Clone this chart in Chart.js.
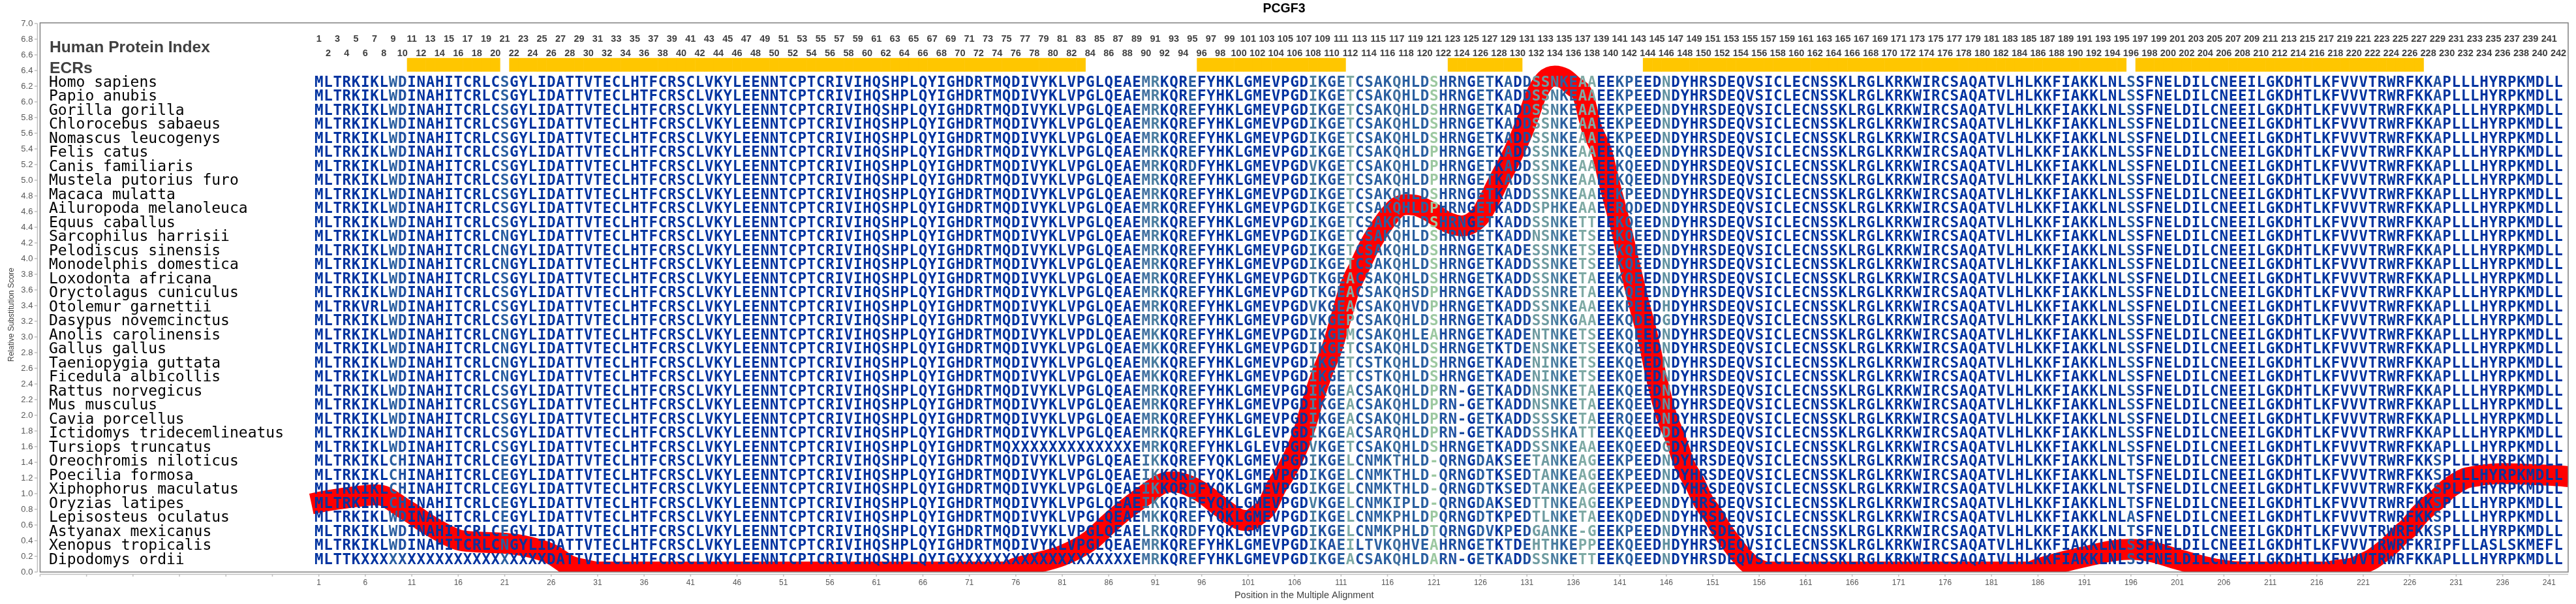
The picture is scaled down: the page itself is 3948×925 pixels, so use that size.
<!DOCTYPE html>
<html>
<head>
<meta charset="utf-8">
<title>PCGF3</title>
<script src="https://cdn.jsdelivr.net/npm/chart.js@4"></script>
<style>
    html, body { margin: 0; padding: 0; background: #fff; }
    canvas { display: block; }
</style>
</head>
<body>
<canvas id="chart" width="3948" height="925"></canvas>
<script>
// species, top to bottom
const species = [
    'Homo sapiens', 'Papio anubis', 'Gorilla gorilla', 'Chlorocebus sabaeus', 'Nomascus leucogenys',
    'Felis catus', 'Canis familiaris', 'Mustela putorius furo', 'Macaca mulatta', 'Ailuropoda melanoleuca',
    'Equus caballus', 'Sarcophilus harrisii', 'Pelodiscus sinensis', 'Monodelphis domestica', 'Loxodonta africana',
    'Oryctolagus cuniculus', 'Otolemur garnettii', 'Dasypus novemcinctus', 'Anolis carolinensis', 'Gallus gallus',
    'Taeniopygia guttata', 'Ficedula albicollis', 'Rattus norvegicus', 'Mus musculus', 'Cavia porcellus',
    'Ictidomys tridecemlineatus', 'Tursiops truncatus', 'Oreochromis niloticus', 'Poecilia formosa',
    'Xiphophorus maculatus', 'Oryzias latipes', 'Lepisosteus oculatus', 'Astyanax mexicanus',
    'Xenopus tropicalis', 'Dipodomys ordii'
];

// alignment, cut into column blocks (one entry per species)
const hS = 'MLTRKIKLWDINAHITCRLCSGYLIDATTV', hN = 'MLTRKIKLWDINAHITCRLCNGYLIDATTV';
const hE = 'MLTRKIKLWDINAHITCRLCEGYLIDATTV', hC = 'MLTRKIKLCHINAHITCRLCEGYLIDATTV';
const block1to30 = [
    hS, hS, hS, hS, hS, hS, hS, hS, hS, hS, hS, hN, hN, hN, hS, hS,
    'MLTRKVRLWDINAHITCRLCSGYLIDATTV', hS, hN, hN, hN, hN, hS, hS, hS, hS, hS,
    hC, hC, hC, 'MLTRKINLCHINAHITCRLCEGYLIDATTV', hE, hE, hN,
    'MLTTKXXXXXXXXXXXXXXXXXXXXDATTV'
];

const m = 'TECLHTFCRSCLVKYLEENNTCPTCRIVIHQSHPLQYIGHDRTMQDIVYKLVPGLQEAE';
const block31to89 = [
    m, m, m, m, m, m, m, m, m, m, m, m, m, m, m, m, m, m,
    'TECLHTFCRSCLVKYLEENNTCPTCRIVIHQSHPLQYIGHDRTMQDIVYKLVPDLQEAE',
    m, m, m, m, m, m, m,
    'TECLHTFCRSCLVKYLEENNTCPTCRIVIHQSHPLQYIGHDRTMQXXXXXXXXXXXXXE',
    m, m, m, m, m, m, m,
    'TECLHTFCRSCLVKYLEENNTCPTCRIVIHQSHPLQYIGXXXXXXXXXXXXXXXXXXXE'
];

const r = 'MRKQREFYHKLGMEVPG', rK = 'MKKQREFYHKLGMEVPG', rL = 'MRKQREFYHKLGLEVPG', rI = 'IKKQRDFYQKLGMEVPG';
const block90to106 = [
    r, r, r, r, r, r, 'MRKQRDFYHKLGMEVPG', r, r, r, r, r, r, r, r, r, r, r,
    rK, rK, rK, rK, r, r, r, rL, rL,
    'IKKQREFYQKLGMEVPG', rI, rI, 'IKKQREFYQKLGMEVPG', 'MKKQREFYQKLGMEVPG', 'LRKQRDFYQKLGMEVPG', r, r
];

const a = 'DIKGETCSAKQHLDSHRNGETKADDSSNKEAAEEKPEEDN', aP = 'DIKGETCSAKQHLDPHRNGETKADDSSNKEAAEEKQEEDN';
const block107to146 = [
    a, a, a, a, a, aP,
    'DVKGETCSAKQHLDPHRNGETKADDSSNKEAAEEKQEEDN',
    aP, a,
    'DIKGETCSAKQHLDPHRNGETKADDSPHKEAAEERQDEDN',
    'DIKGETCSAKQHLDSHRNGETKADDSSNKETTEEKQEEDN',
    'DIKGETCSAKQHLDSHRNGETKADDNSNKETSEEKQEEDN',
    'DIKGETCSAKQHLDSHRNGETKADESSNKETSEEKQEEDN',
    'DIKGETCSAKQHLDSHRNGETKADDSSNKETSEEKQEEDN',
    'DTKGEACSAKQHLDSHRNGETKADDSSNKETAEEKQEEDN',
    'DTKGEACSAKQHSDPHRNGETKADDSSNRETAEEKQEEDN',
    'DVKGEACSAKQHVDPHRNGETKADDSSNKEAAEEKPEEDH',
    'DVKGEPCSAKQHLDSHRNGETKADDSSNKGAAEEKQDEDG',
    'DIKGEMCSAKQHLEAHRNGETKADENTNKETSEEKQEEDN',
    'DIKGETCSAKQHLDSHRNGETKTDENSNKETSEEKQEEDN',
    'DIKGETCSTKQHLDSHRNGETKADENINKETSEEKQEEDN',
    'DIKGETCSTKQHLDSHRNGETKADENINKETSEEKQEEDN',
    'DIKGEACSAKQHLDPRN-GETKADDNSNKETAEEKQEEDN',
    'DIKGEACSAKQHLDPRN-GETKADDNSNKETAEEKQEEDN',
    'DIKGEACSAKQHLDPRN-GETKADDSSSKETAEERQEEDN',
    'DIKGEACSARQHLDPRN-GETKADDSSHKATTEEKQEEDD',
    'DVKGETCSAKQHLDSHRNGETKADDSSNKEAAEEKQEEDG',
    'DIKGELCNMKTHLD-QRNGDAKSEETANKEAGEEKPEEDN',
    'DIKGELCNMKTHLD-QRNGDTKSEDTANKEAGEEKPEEDN',
    'DIKGELCNMKTHLD-QRNGDTKSEDTANKEAGEEKPEEDN',
    'DVKGELCNMKIPLD-QRNGDAKSEDTTNKEAGEEKPEEDN',
    'DIKGELCNMKPHLDPQRNGDTKPEDTLNKETAEEKQDEDN',
    'DIKGELCNMKPHLDTQRNGDVKPEDGANKE-GEEKPEEDN',
    'DIKAEILTVKQHVEAHRNGETKTDEHTHKEPPEEKQEEDH',
    'DIKGEACSAKQHLDARN-GETKADDSSNKETTEEKQEEDN'
];

const block147to195 = 'DYHRSDEQVSICLECNSSKLRGLKRKWIRCSAQATVLHLKKFIAKKLNL';
const column196 = 'SSSSSSSSSSSSSSSSSSSSSSSSSSSTTTTATSS';
const t = 'SFNELDILCNEEILGKDHTLKFVVVTRWRFKKAPLLLHYRPKMDLL', tS = 'SFNELDILCNEEILGKDHTLKFVVVTRWRFKKSPLLLHYRPKMDLL';
const block197to242 = [
    t, t, t, t, t, t, t, t, t, t, t, t, t, t, t, t, t, t, t, t, t, t, t, t, t, t, t,
    tS, tS, tS, tS, tS, tS,
    'SFNELDILCNEEILGKDHTLKFVVVTRWRFKRIPFLLASLSKMEFL', t
];

// conservation colours, listed by column; anything not listed is the darkest blue
const baseLetterColor = '#0033a0';
const columnColors = {
    '#1f50a0': [10, 109, 110, 113, 122, 123, 124, 131, 143, 229],
    '#2a5fa0': [9, 21, 95, 111, 114, 115, 116, 118, 119, 120, 126, 127, 129, 135, 136, 141, 142, 196],
    '#3f6f9f': [90, 117],
    '#4a7d9f': [91, 108, 134],
    '#5f90a0': [146],
    '#6e9ba0': [132, 133],
    '#7faaa5': [112, 137, 138],
    '#9cc8a0': [121]
};

// ECR blocks as first/last column
const ecrStart = [11, 22, 96, 123, 144, 197];
const ecrEnd = [20, 83, 111, 130, 195, 227];
const ecrLow = 6.385;
const ecrHigh = 6.56;

// relative substitution score
const scorePositions = [
    0.2, 1, 3, 6, 7, 8, 10, 11, 13, 16, 18, 21, 23, 26, 28, 30, 31, 75, 76, 78, 81, 84, 86, 88, 90, 92, 93, 94, 96, 98,
    100, 101, 102, 103, 104, 105, 106, 107, 108, 109, 110, 111, 112, 113, 114, 115, 116, 117, 118, 119, 120, 121, 122,
    123, 124, 125, 126, 127, 128, 129, 130, 131, 132, 133, 134, 135, 136, 137, 138, 139, 140, 141, 142, 143, 144, 145,
    146, 147, 148, 149, 150, 151, 152, 153, 154, 155, 156, 157, 185, 186, 188, 191, 194, 196, 198, 201, 204, 206, 208,
    217, 218, 220, 221, 222, 223, 224, 225, 226, 227, 228, 229, 230, 231, 232, 233, 234, 236, 238, 240, 242, 243.1
];
const scoreValues = [
    0.87, 0.89, 0.93, 0.975, 0.986, 0.97, 0.82, 0.747, 0.59, 0.41, 0.383, 0.367, 0.336, 0.23, 0.08, 0.02, 0, 0, 0.05,
    0.11, 0.21, 0.4, 0.617, 0.815, 0.99, 1.14, 1.15, 1.13, 1.017, 0.836,
    0.675, 0.656, 0.725, 0.83, 1.08, 1.27, 1.5, 1.8, 2.2, 2.55, 2.85, 3.25, 3.65, 3.9, 4.15, 4.35, 4.52, 4.65, 4.69,
    4.68, 4.636, 4.57, 4.49, 4.44, 4.417, 4.45, 4.55, 4.76, 5.0, 5.22, 5.47, 5.76, 6.09, 6.28, 6.33, 6.3, 6.2, 6.09,
    5.65, 5.38, 4.9, 4.45, 3.94, 3.45, 3.0, 2.45,
    2.0, 1.7, 1.36, 1.15, 0.9, 0.73, 0.53, 0.37, 0.22, 0.1, 0.03, 0, 0, 0.04, 0.108, 0.194, 0.27, 0.289, 0.264, 0.164,
    0.066, 0.02, 0,
    0, 0.02, 0.055, 0.11, 0.167, 0.253, 0.353, 0.475, 0.578, 0.725, 0.836, 0.933, 1.05, 1.133, 1.197, 1.22, 1.24,
    1.256, 1.25, 1.24, 1.228, 1.217
];

// x axis ticks: the axis starts well left of residue 1, those ticks have no label
const xTickValues = [];
for (let v = -29; v <= 241; v += 5) xTickValues.push(v);

const alignment = species.map((_, i) =>
    block1to30[i] + block31to89[i] + block90to106[i] + block107to146[i] + block147to195 + column196[i] + block197to242[i]);

const letterColor = {};
Object.keys(columnColors).forEach(color => columnColors[color].forEach(pos => { letterColor[pos] = color; }));

// every residue inside an ECR gets one floating bar
const ecrBars = [];
ecrStart.forEach((start, i) => {
    for (let pos = start; pos <= ecrEnd[i]; pos++) ecrBars.push({ x: pos, y: [ecrLow, ecrHigh] });
});

// text boxes and the offset axes sit on top of the curve
const overlayPlugin = {
    id: 'overlay',
    afterDatasetsDraw(chart) {
        const { ctx, chartArea, scales } = chart;
        const xs = scales.x;
        const ys = scales.y;
        ctx.save();

        ctx.strokeStyle = '#808080';
        ctx.lineWidth = 1.5;
        ctx.strokeRect(chartArea.left, chartArea.top - 1, chartArea.width, chartArea.height + 1);

        ctx.strokeStyle = '#bfbfbf';
        ctx.lineWidth = 1.5;
        ctx.beginPath();
        const axisX = chartArea.left - 4;
        const axisY = chartArea.bottom + 3.5;
        ctx.moveTo(axisX, chartArea.top);
        ctx.lineTo(axisX, chartArea.bottom);
        ys.ticks.forEach((tick, i) => {
            const y = ys.getPixelForTick(i);
            ctx.moveTo(axisX, y);
            ctx.lineTo(axisX - 4.5, y);
        });
        ctx.moveTo(chartArea.left, axisY);
        ctx.lineTo(chartArea.right, axisY);
        xs.ticks.forEach((tick, i) => {
            const x = xs.getPixelForTick(i);
            ctx.moveTo(x, axisY);
            ctx.lineTo(x, axisY + 3.5);
        });
        ctx.stroke();

        // y title sits lower than the middle of the axis
        ctx.save();
        ctx.translate(18, 482);
        ctx.rotate(-Math.PI / 2);
        ctx.fillStyle = '#404040';
        ctx.textAlign = 'center';
        ctx.textBaseline = 'middle';
        ctx.font = '12px "Liberation Sans"';
        ctx.fillText('Relative Substitution Score', 0, 0);
        ctx.restore();

        ctx.textBaseline = 'alphabetic';

        // row headings
        ctx.fillStyle = '#404040';
        ctx.textAlign = 'left';
        ctx.font = 'bold 24.6px "Liberation Sans"';
        ctx.fillText('Human Protein Index', 76, 80);
        ctx.fillText('ECRs', 76, 112);

        // residue numbers, two staggered rows
        ctx.textAlign = 'center';
        ctx.font = 'bold 14.5px "Liberation Sans"';
        for (let pos = 1; pos <= 242; pos++) {
            ctx.fillText(String(pos), xs.getPixelForValue(pos), pos % 2 ? 64 : 86);
        }

        species.forEach((name, row) => {
            const baseline = Math.round(132.6 + 21.5 * row);
            ctx.textAlign = 'left';
            ctx.fillStyle = '#000';
            ctx.font = '23px "DejaVu Sans Mono"';
            ctx.fillText(name, 75, baseline);

            ctx.textAlign = 'center';
            ctx.font = 'bold 22.5px "DejaVu Sans Mono"';
            const seq = alignment[row];
            for (let c = 0; c < seq.length; c++) {
                ctx.fillStyle = letterColor[c + 1] || baseLetterColor;
                ctx.fillText(seq[c], xs.getPixelForValue(c + 1), baseline);
            }
        });

        ctx.restore();
    }
};

new Chart(document.getElementById('chart').getContext('2d'), {
    type: 'line',
    data: {
        datasets: [
            {
                label: 'Relative Substitution Score',
                data: scorePositions.map((pos, i) => ({ x: pos, y: scoreValues[i] })),
                borderColor: '#ff0000',
                borderWidth: 32,
                borderCapStyle: 'butt',
                borderJoinStyle: 'round',
                cubicInterpolationMode: 'monotone',
                pointRadius: 0,
                fill: false,
                clip: 0,
                order: 1
            },
            {
                type: 'bar',
                label: 'ECRs',
                data: ecrBars,
                backgroundColor: '#ffc600',
                borderWidth: 0,
                categoryPercentage: 1,
                barPercentage: 1.04,
                order: 2
            }
        ]
    },
    options: {
        responsive: false,
        animation: false,
        layout: { padding: { right: 12 } },
        plugins: {
            legend: { display: false },
            tooltip: { enabled: false },
            title: {
                display: true,
                text: 'PCGF3',
                color: '#000',
                font: { family: 'Liberation Sans', size: 19.5, weight: 'bold', lineHeight: 1.2 },
                padding: { top: 2, bottom: 10.6 }
            }
        },
        scales: {
            x: {
                type: 'linear',
                offset: false,
                min: -29,
                max: 243.05,
                afterBuildTicks: axis => { axis.ticks = xTickValues.map(value => ({ value })); },
                afterFit: axis => { axis.height = 49; },
                grid: { display: false, drawTicks: false },
                border: { display: false },
                ticks: {
                    autoSkip: false,
                    maxRotation: 0,
                    padding: 9,
                    color: '#595959',
                    font: { family: 'Liberation Sans', size: 12 },
                    callback: value => (value >= 1 ? String(value) : '')
                },
                title: {
                    display: true,
                    text: 'Position in the Multiple Alignment',
                    color: '#404040',
                    font: { family: 'Liberation Sans', size: 14.5 },
                    padding: { top: 7 }
                }
            },
            y: {
                min: 0,
                max: 7,
                afterFit: axis => { axis.width = 61.4; },
                grid: { display: false, drawTicks: false },
                border: { display: false },
                ticks: {
                    stepSize: 0.2,
                    autoSkip: false,
                    padding: 11,
                    color: '#595959',
                    font: { family: 'Liberation Sans', size: 13 },
                    callback: value => value.toFixed(1)
                }
            }
        }
    },
    plugins: [overlayPlugin]
});
</script>
</body>
</html>
